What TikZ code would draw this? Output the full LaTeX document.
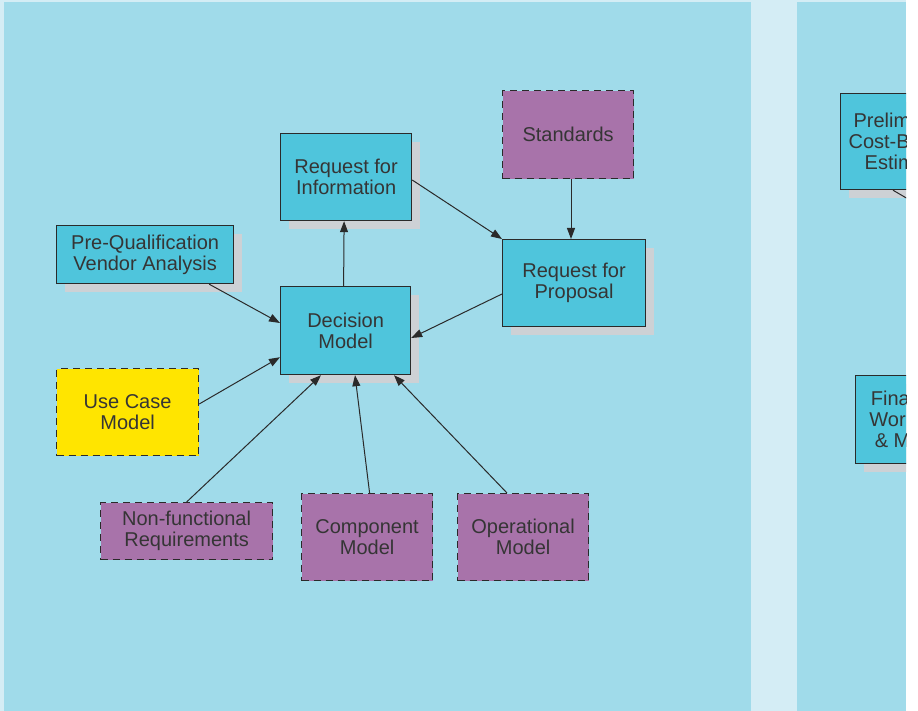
\documentclass[tikz,border=0pt]{standalone}
\usepackage{fontspec}
\setmainfont{Liberation Sans}
\usetikzlibrary{arrows.meta,shadows,calc}
\definecolor{panel}{HTML}{A0DBEA}
\definecolor{gapc}{HTML}{D4EDF5}
\definecolor{nodec}{HTML}{4FC5DC}
\definecolor{purp}{HTML}{A873AA}
\definecolor{yel}{HTML}{FFE500}
\definecolor{shadowc}{HTML}{CDD1D5}
\definecolor{edgec}{HTML}{2A2A2A}
\definecolor{textc}{HTML}{353535}
\begin{document}
\begin{tikzpicture}[x=1pt,y=-1pt,
  box/.style={draw=edgec, line width=1.2pt, text=textc, align=center,
    font=\fontsize{20}{21}\selectfont, inner sep=0pt, anchor=north west},
  solidbox/.style={box, fill=nodec,
    drop shadow={opacity=1, fill=shadowc, shadow xshift=8pt, shadow yshift=-8pt}},
  dashbox/.style={box, dash pattern=on 7pt off 5pt},
  arr/.style={draw=edgec, line width=1pt, -{Triangle[length=11pt,width=8pt]}},
  plain/.style={draw=edgec, line width=1pt}]
\useasboundingbox (0,0) rectangle (918,711);
\fill[white] (0,0) rectangle (918,711);
\fill[gapc] (0,0) rectangle (906,711);
\fill[panel] (4,2) rectangle (751,711);
\fill[panel] (797,2) rectangle (906,711);

% left panel nodes
\node[solidbox, minimum width=131pt, minimum height=87pt] (rfi) at (280,133) {Request for\\Information};
\node[dashbox, fill=purp, minimum width=131pt, minimum height=88pt] (st) at (502,90) {Standards};
\node[solidbox, minimum width=177pt, minimum height=58pt] (pq) at (56,225) {Pre-Qualification\\Vendor Analysis};
\node[solidbox, minimum width=130pt, minimum height=88pt] (dm) at (280,286) {Decision\\Model};
\node[solidbox, minimum width=143pt, minimum height=87pt] (rfp) at (502,239) {Request for\\Proposal};
\node[dashbox, fill=yel, minimum width=142pt, minimum height=87pt] (uc) at (56,368) {Use Case\\Model};
\node[dashbox, fill=purp, minimum width=172pt, minimum height=57pt] (nf) at (100,502) {Non-functional\\Requirements};
\node[dashbox, fill=purp, minimum width=131pt, minimum height=87pt] (cm) at (301,493) {Component\\Model};
\node[dashbox, fill=purp, minimum width=131pt, minimum height=87pt] (om) at (457,493) {Operational\\Model};

% connectors
\draw[arr] ([xshift=-2pt]dm.north) -- ([xshift=-2pt]rfi.south);
\draw[arr] ([yshift=-47pt]rfi.north east) -- (rfp.north west);
\draw[arr] ([xshift=69pt]st.south west) -- ([xshift=69pt]rfp.north west);
\draw[arr] ([yshift=-55pt]rfp.north west) -- ([yshift=-52pt]dm.north east);
\draw[arr] ([xshift=-25pt]pq.south east) -- ([yshift=-37pt]dm.north west);
\draw[arr] ([yshift=-36pt]uc.north east) -- ([yshift=18pt]dm.south west);
\draw[arr] (nf.north) -- ([xshift=41pt]dm.south west);
\draw[arr] ([xshift=2.5pt]cm.north) -- ([xshift=75pt]dm.south west);
\draw[arr] ([xshift=50pt]om.north west) -- ([xshift=114pt]dm.south west);

% right panel (cut off at the page edge)
\begin{scope}
\clip (0,0) rectangle (906,711);
\node[solidbox, minimum width=126pt, minimum height=96pt] (pre) at (840,93) {Preliminary\\Cost-Benefit\\Estimate};
\node[solidbox, minimum width=74pt, minimum height=88pt] (fin) at (855,375) {Final\\Work\\\& M};
\coordinate (preout) at (990,247);
\draw[plain] ([xshift=53pt]pre.south west) -- (preout);
\end{scope}
\end{tikzpicture}
\end{document}
